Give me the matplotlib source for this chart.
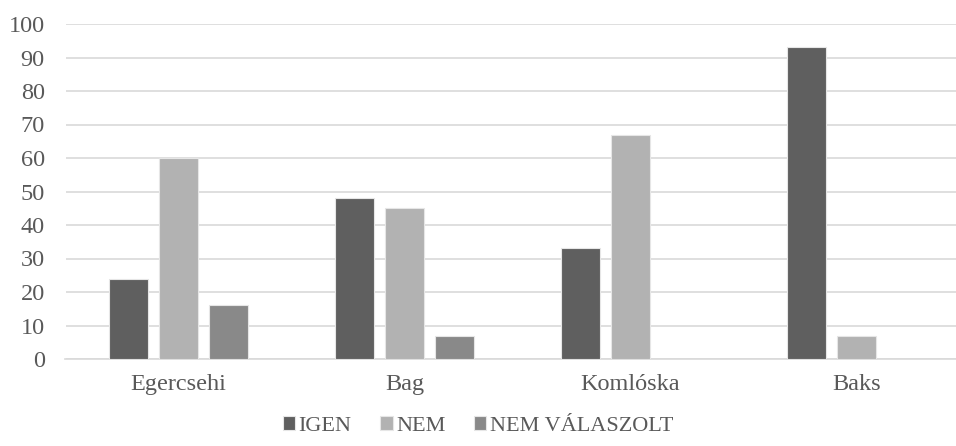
import matplotlib.pyplot as plt
import numpy as np

# adatok
telepulesek = ['Egercsehi', 'Bag', 'Komlóska', 'Baks']
igen = [24, 48, 33, 93]
nem = [60, 45, 67, 7]
nem_valaszolt = [16, 7, 0, 0]
sorozatok = ['IGEN', 'NEM', 'NEM VÁLASZOLT']
szinek = ['#5f5f5f', '#b2b2b2', '#898989']

plt.rcParams['font.family'] = ['Liberation Serif', 'DejaVu Serif']

fig = plt.figure(figsize=(9.56, 4.46), dpi=100)
# plot terulet: jobb szele kilog a kepbol, mint az eredetin
ax = fig.add_axes([65.5 / 956, 1 - 359 / 446, 904 / 956, 335 / 446])

x = np.arange(len(telepulesek))
w = 0.1726
d = 0.221
for i, (vals, nev, c) in enumerate(zip([igen, nem, nem_valaszolt], sorozatok, szinek)):
    ax.bar(x + (i - 1) * d, vals, width=w, color=c, label=nev,
           edgecolor='#e6e6e6', linewidth=0.8, zorder=3)

ax.set_xlim(-0.5, 3.5)
ax.set_ylim(0, 100)
ax.set_yticks(range(0, 101, 10))
ax.set_xticks(x)
ax.set_xticklabels(telepulesek)
ax.grid(axis='y', color='#d9d9d9', linewidth=1.2, zorder=0)
for s in ['top', 'right', 'left']:
    ax.spines[s].set_visible(False)
ax.spines['bottom'].set_color('#d9d9d9')
ax.spines['bottom'].set_linewidth(1.2)
ax.tick_params(length=0, colors='#595959', labelsize=17.5)
ax.tick_params(axis='y', pad=15)
ax.tick_params(axis='x', pad=11)

fig.legend(loc='center', bbox_to_anchor=(478 / 956, 1 - 426 / 446), ncol=3,
           frameon=False, fontsize=16, labelcolor='#595959',
           handlelength=0.55, handleheight=0.55, handletextpad=0.15,
           columnspacing=1.3)

fig.savefig('out.png', dpi=100)
